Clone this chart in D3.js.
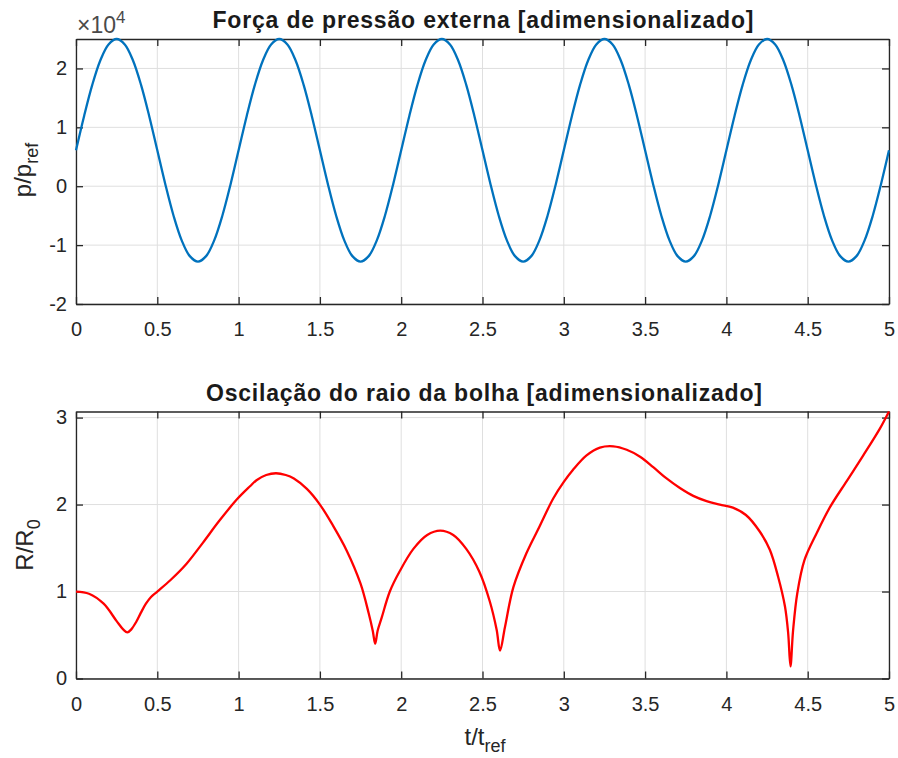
<!DOCTYPE html>
<html><head><meta charset="utf-8">
<script src="https://cdn.jsdelivr.net/npm/d3@7"></script>
<style>body{margin:0;background:#fff}text{font-family:"Liberation Sans",Arial,Helvetica,sans-serif}</style>
</head><body><svg id="c" width="898" height="758"></svg>
<script>
// ---------- data ----------
const xTicks = [0, 0.5, 1, 1.5, 2, 2.5, 3, 3.5, 4, 4.5, 5];
const pressureTicks = [-2, -1, 0, 1, 2];          // in units of 10^4
const radiusTicks = [0, 1, 2, 3];
const pressureDomain = [-20000, 25000];
const pressureStep = 0.05;                          // t spacing of the pressure samples
const pressure = [
  6100, 11940, 17210, 21390, 24070, 25000, 24070, 21390, 17210, 11940,
  6100, 260, -5010, -9190, -11870, -12800, -11870, -9190, -5010, 260,
  6100, 11940, 17210, 21390, 24070, 25000, 24070, 21390, 17210, 11940,
  6100, 260, -5010, -9190, -11870, -12800, -11870, -9190, -5010, 260,
  6100, 11940, 17210, 21390, 24070, 25000, 24070, 21390, 17210, 11940,
  6100, 260, -5010, -9190, -11870, -12800, -11870, -9190, -5010, 260,
  6100, 11940, 17210, 21390, 24070, 25000, 24070, 21390, 17210, 11940,
  6100, 260, -5010, -9190, -11870, -12800, -11870, -9190, -5010, 260,
  6100, 11940, 17210, 21390, 24070, 25000, 24070, 21390, 17210, 11940,
  6100, 260, -5010, -9190, -11870, -12800, -11870, -9190, -5010, 260,
  6100
];
const radiusT = [
  0.00, 0.08, 0.17, 0.25, 0.29, 0.316, 0.34, 0.37, 0.40, 0.43,
  0.46, 0.50, 0.58, 0.68, 0.78, 0.88, 0.99, 1.07, 1.11, 1.17,
  1.23, 1.29, 1.34, 1.42, 1.50, 1.58, 1.665, 1.75, 1.80, 1.825,
  1.84, 1.855, 1.88, 1.93, 1.99, 2.075, 2.16, 2.24, 2.32, 2.40,
  2.48, 2.545, 2.587, 2.608, 2.638, 2.69, 2.77, 2.85, 2.935, 3.00,
  3.057, 3.14, 3.222, 3.305, 3.387, 3.469, 3.55, 3.632, 3.714, 3.796,
  3.878, 3.96, 4.04, 4.12, 4.205, 4.267, 4.318, 4.36, 4.38, 4.394,
  4.41, 4.436, 4.48, 4.555, 4.637, 4.74, 4.84, 4.943, 5.00
];
const radiusR = [
  1.00, 0.975, 0.86, 0.66, 0.565, 0.53, 0.565, 0.65, 0.76, 0.86,
  0.935, 1.00, 1.13, 1.32, 1.56, 1.81, 2.06, 2.21, 2.28, 2.34,
  2.36, 2.34, 2.30, 2.18, 2.00, 1.76, 1.47, 1.09, 0.75, 0.55,
  0.40, 0.55, 0.70, 1.00, 1.23, 1.49, 1.65, 1.70, 1.65, 1.49,
  1.23, 0.885, 0.56, 0.32, 0.59, 1.05, 1.44, 1.745, 2.07, 2.26,
  2.40, 2.565, 2.655, 2.67, 2.63, 2.55, 2.43, 2.30, 2.19, 2.10,
  2.04, 2.00, 1.965, 1.88, 1.69, 1.48, 1.17, 0.83, 0.52, 0.14,
  0.55, 0.98, 1.36, 1.67, 1.97, 2.27, 2.56, 2.87, 3.07
];
const titles = ["Força de pressão externa [adimensionalizado]", "Oscilação do raio da bolha [adimensionalizado]"];

// ---------- layout ----------
const svg = d3.select("#c");
const L = 76, R = 889;
const axCol = "#262626", gridCol = "#dfdfdf";
const x = d3.scaleLinear([0, 5], [L, R]);
const fmt = d => String(d);

function panel(yScale, yTicks, yFmt, top, bottom) {
  const g = svg.append("g");
  g.selectAll(".gx").data(xTicks).join("line")
    .attr("x1", d => x(d)).attr("x2", d => x(d)).attr("y1", top).attr("y2", bottom)
    .attr("stroke", gridCol).attr("stroke-width", 1);
  g.selectAll(".gy").data(yTicks).join("line")
    .attr("x1", L).attr("x2", R).attr("y1", d => yScale(d)).attr("y2", d => yScale(d))
    .attr("stroke", gridCol).attr("stroke-width", 1);
  const style = sel => {
    sel.selectAll("path,line").attr("stroke", axCol).attr("stroke-width", 1.3);
    sel.selectAll("text").attr("fill", axCol).style("font-size", "20px")
      .style("font-family", '"Liberation Sans",Arial,sans-serif');
  };
  g.append("g").attr("transform", `translate(0,${bottom})`)
    .call(d3.axisBottom(x).tickValues(xTicks).tickFormat(fmt).tickSize(-7).tickSizeOuter(0).tickPadding(18))
    .call(style);
  g.append("g").attr("transform", `translate(0,${top})`)
    .call(d3.axisTop(x).tickValues(xTicks).tickFormat("").tickSize(-7).tickSizeOuter(0))
    .call(style);
  g.append("g").attr("transform", `translate(${L},0)`)
    .call(d3.axisLeft(yScale).tickValues(yTicks).tickFormat(yFmt).tickSize(-7).tickSizeOuter(0).tickPadding(9))
    .call(style);
  g.append("g").attr("transform", `translate(${R},0)`)
    .call(d3.axisRight(yScale).tickValues(yTicks).tickFormat("").tickSize(-7).tickSizeOuter(0))
    .call(style);
  g.selectAll(".domain").attr("fill", "none");
  return g;
}

// ---------- top panel ----------
const yP = d3.scaleLinear(pressureDomain, [304, 39]);
panel(yP, pressureTicks.map(v => v * 1e4), d => fmt(d / 1e4), 39, 304);
const pLine = d3.line().x((d, i) => x(i * pressureStep)).y(d => yP(d)).curve(d3.curveCatmullRom);
svg.append("path").datum(pressure).attr("d", pLine)
  .attr("fill", "none").attr("stroke", "#0072BD").attr("stroke-width", 2.3);

// exponent
const ex = svg.append("text").attr("x", 77).attr("y", 33).attr("fill", "#4a4a4a").style("font-size", "23px");
ex.append("tspan").text("×10");
ex.append("tspan").attr("dy", -10).style("font-size", "17px").text("4");

// ---------- bottom panel ----------
const yR = d3.scaleLinear([0, d3.max(radiusR)], [678.5, 411.5]);
panel(yR, radiusTicks, fmt, 411.5, 678.5);
const rLine = d3.line().x((d, i) => x(radiusT[i])).y(d => yR(d)).curve(d3.curveCatmullRom.alpha(0.5));
svg.append("path").datum(radiusR).attr("d", rLine)
  .attr("fill", "none").attr("stroke", "#FF0000").attr("stroke-width", 2.3);

// ---------- titles ----------
svg.append("text").attr("x", 483).attr("y", 28).attr("text-anchor", "middle")
  .attr("font-weight", "bold").style("font-size", "23px").attr("fill", "#1a1a1a")
  .attr("textLength", 541).attr("lengthAdjust", "spacing").text(titles[0]);
svg.append("text").attr("x", 484).attr("y", 401).attr("text-anchor", "middle")
  .attr("font-weight", "bold").style("font-size", "23px").attr("fill", "#1a1a1a")
  .attr("textLength", 556).attr("lengthAdjust", "spacing").text(titles[1]);

// ---------- axis labels ----------
function label(xp, yp, main, sub, rotate) {
  const t = svg.append("text").attr("text-anchor", "middle").attr("fill", axCol)
    .style("font-size", "24px")
    .attr("transform", rotate ? `translate(${xp},${yp}) rotate(-90)` : `translate(${xp},${yp})`);
  t.append("tspan").text(main);
  t.append("tspan").attr("dy", 7).style("font-size", "18px").text(sub);
}
label(31, 170, "p/p", "ref", true);
label(33, 545, "R/R", "0", true);
label(485, 745, "t/t", "ref", false);
</script></body></html>
